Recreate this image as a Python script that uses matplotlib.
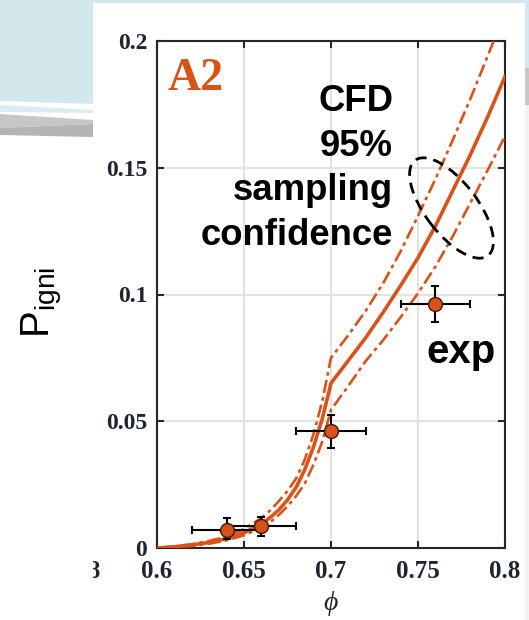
import matplotlib
matplotlib.use("Agg")
import numpy as np
import matplotlib.pyplot as plt
from matplotlib.patches import Ellipse, Polygon
from matplotlib.transforms import IdentityTransform, Bbox

# CFD curves (mean and 95% sampling confidence band)
phi_cfd = [0.60, 0.61, 0.62, 0.63, 0.64, 0.65, 0.66, 0.665, 0.67, 0.675, 0.68, 0.685, 0.69, 0.695,
           0.70, 0.71, 0.72, 0.73, 0.74, 0.75, 0.76, 0.77, 0.78, 0.79, 0.80]
p_mean = [0.0, 0.0005, 0.0012, 0.0022, 0.0037, 0.006, 0.0095, 0.012, 0.015, 0.019, 0.024, 0.031, 0.040, 0.051,
          0.065, 0.074, 0.083, 0.093, 0.1035, 0.1145, 0.127, 0.141, 0.155, 0.170, 0.186]
p_upper = [0.0, 0.0006, 0.0015, 0.0028, 0.0045, 0.0075, 0.0118, 0.0148, 0.0185, 0.0225, 0.0275, 0.035, 0.045, 0.058,
           0.075, 0.084, 0.0936, 0.1045, 0.117, 0.131, 0.1455, 0.161, 0.177, 0.194, 0.211]
p_lower = [0.0, 0.0004, 0.0008, 0.0017, 0.003, 0.005, 0.008, 0.0102, 0.013, 0.0165, 0.0205, 0.0255, 0.033, 0.042,
           0.0545, 0.064, 0.0738, 0.082, 0.091, 0.1005, 0.111, 0.123, 0.136, 0.149, 0.1624]

# experiments
phi_exp = [0.64, 0.66, 0.70, 0.76]
p_exp = [0.0071, 0.0087, 0.0462, 0.0964]
p_err_lo = [0.0035, 0.0038, 0.0066, 0.0074]
p_err_hi = [0.0047, 0.0037, 0.0063, 0.0071]
phi_err = [0.02, 0.02, 0.02, 0.02]

xticks = [0.6, 0.65, 0.7, 0.75, 0.8]
xtick_labels = ['0.6', '0.65', '0.7', '0.75', '0.8']
yticks = [0, 0.05, 0.1, 0.15, 0.2]
ytick_labels = ['0', '0.05', '0.1', '0.15', '0.2']

orange = '#d95319'
W, H = 529, 620

fig = plt.figure(figsize=(5.29, 6.20), dpi=100)
fig.patch.set_facecolor('white')

def px(x, y):
    return (x / W, 1 - y / H)

# slide background bits
bg = [
    ([(0, 0), (529, 0), (529, 3), (0, 3)], '#d3e8ec'),
    ([(0, 0), (93, 0), (93, 104), (0, 101)], '#d3e8ec'),
    ([(0, 105), (93, 110), (93, 113), (0, 112)], '#d9ecef'),
    ([(0, 114), (93, 120), (93, 124), (0, 128)], '#c6c6c6'),
    ([(0, 128), (93, 124), (93, 137), (0, 135)], '#b4b4b4'),
    ([(525, 0), (529, 0), (529, 68), (525, 68)], '#d3e8ec'),
    ([(525, 68), (529, 68), (529, 105), (525, 105)], '#c8c8c8'),
    ([(525, 105), (529, 105), (529, 620), (525, 620)], '#f4f4f4'),
]
for pts, c in bg:
    fig.patches.append(Polygon([px(*p) for p in pts], closed=True, transform=fig.transFigure,
                               facecolor=c, edgecolor='none', zorder=0))

ax = fig.add_axes([157 / W, 1 - 548 / H, 348 / W, 507 / H])
ax.set_xlim(0.6, 0.8)
ax.set_ylim(0, 0.2)

ax.grid(True, color='#e2e2e2', linewidth=1.5)
ax.set_axisbelow(True)

dashdot = (0, (5, 1.6, 1.4, 1.6))
ax.plot(phi_cfd, p_mean, '-', color=orange, linewidth=2.6, zorder=3)
ax.plot(phi_cfd, p_upper, color=orange, linewidth=1.9, linestyle=dashdot, zorder=3)
ax.plot(phi_cfd, p_lower, color=orange, linewidth=1.9, linestyle=dashdot, zorder=3)

ax.errorbar(phi_exp, p_exp, yerr=[p_err_lo, p_err_hi], xerr=phi_err, fmt='o',
            color='black', ecolor='black', elinewidth=1.5, capsize=3, capthick=1.5,
            markerfacecolor=orange, markeredgecolor='#3a1a0a', markersize=10, zorder=4)

ax.set_xticks(xticks)
ax.set_xticklabels(xtick_labels)
ax.set_yticks(yticks)
ax.set_yticklabels(ytick_labels)
ax.tick_params(direction='in', length=5, width=1.5, top=True, right=True, colors='#262626',
               labelcolor='#1e2530')
ax.tick_params(axis='x', pad=9)
ax.tick_params(axis='y', pad=7)
for lab in ax.get_xticklabels():
    lab.set_fontfamily('Liberation Serif'); lab.set_fontweight('bold'); lab.set_fontsize(18)
for lab in ax.get_yticklabels():
    lab.set_fontfamily('Liberation Serif'); lab.set_fontweight('bold'); lab.set_fontsize(17)
for s in ax.spines.values():
    s.set_linewidth(1.5)
    s.set_color('#262626')

# texts
tr = IdentityTransform()
def text_px(x, y, s, **kw):
    return fig.text(x / W, 1 - y / H, s, **kw)

text_px(167, 90, 'A2', fontfamily='Liberation Serif', fontweight='bold', fontsize=33,
        color=orange, va='baseline', ha='left')
for s, yb in zip(['CFD', '95%', 'sampling', 'confidence'], [111, 156, 200, 245]):
    text_px(393, yb, s, fontfamily='Liberation Sans', fontweight='bold', fontsize=26.3,
            ha='right', va='baseline', color='black')
text_px(461, 363, 'exp', fontfamily='Liberation Sans', fontweight='bold', fontsize=29,
        ha='center', va='baseline', color='black')

plt.rcParams['mathtext.fontset'] = 'custom'
plt.rcParams['mathtext.rm'] = 'Liberation Sans'
text_px(42, 302, r'P$_{\mathrm{igni}}$', fontfamily='Liberation Sans', fontsize=29,
        rotation=90, ha='center', va='center', color='black')
text_px(331, 604, '\u03d5', fontfamily=['Liberation Serif', 'DejaVu Serif'], fontstyle='italic', fontsize=20,
        ha='center', va='center', color='#1e2530')

# clipped tick label of the neighbouring panel
t = text_px(100, 578, '0.8', fontfamily='Liberation Serif', fontweight='bold', fontsize=18,
            ha='right', va='baseline', color='#1e2530')
t.set_clip_box(Bbox.from_extents(93, 0, 529, 620))
t.set_clip_on(True)

# dashed ellipse around the confidence band
ell = Ellipse((451.5, H - 208), width=120, height=52, angle=-52.6, transform=tr,
              fill=False, edgecolor='black', linewidth=2, linestyle=(0, (4, 2.5)))
fig.add_artist(ell)

fig.savefig('out.png', dpi=100)
